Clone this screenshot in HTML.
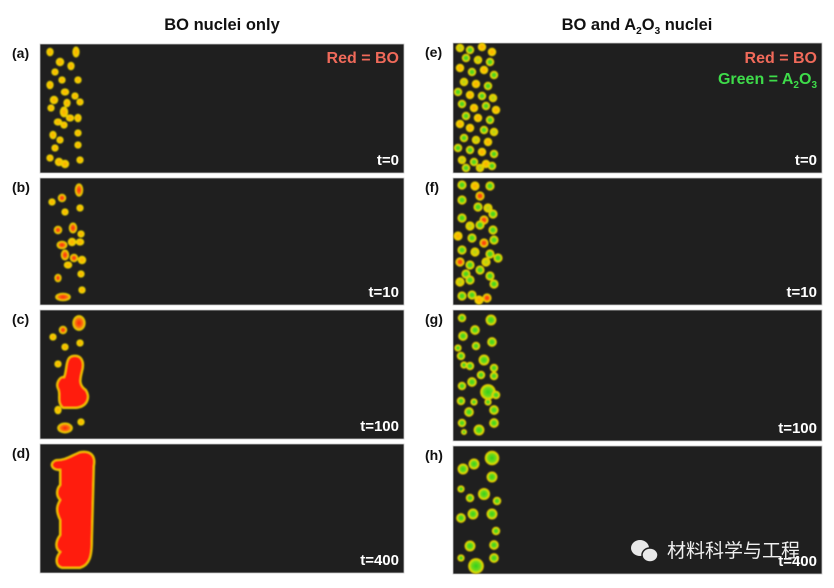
<!DOCTYPE html>
<html><head><meta charset="utf-8"><style>
body{margin:0;background:#fff;width:834px;height:588px;overflow:hidden}
svg{display:block}
text{font-family:"Liberation Sans",Arial,sans-serif;font-weight:bold}
</style></head><body>
<svg width="834" height="588" viewBox="0 0 834 588">
<defs>
<radialGradient id="gy"><stop offset="0" stop-color="#f7a800"/><stop offset="0.6" stop-color="#fbc400"/><stop offset="1" stop-color="#f0d000"/></radialGradient>
<radialGradient id="gr"><stop offset="0" stop-color="#ff2010"/><stop offset="0.55" stop-color="#f86a10"/><stop offset="1" stop-color="#f0d000"/></radialGradient>
<radialGradient id="gg"><stop offset="0" stop-color="#30d020"/><stop offset="0.6" stop-color="#70d818"/><stop offset="1" stop-color="#e8e000"/></radialGradient>
<radialGradient id="gm"><stop offset="0" stop-color="#a8d010"/><stop offset="1" stop-color="#f0d000"/></radialGradient>
<filter id="bl"><feGaussianBlur stdDeviation="0.7"/></filter>
</defs>
<g id="root"></g>
</svg>
<script>
const panels=[
 ['a',40,44,364,129,'t=0'],['b',40,178,364,127,'t=10'],['c',40,310,364,129,'t=100'],['d',40,444,364,129,'t=400'],
 ['e',453,43,369,130,'t=0'],['f',453,178,369,127,'t=10'],['g',453,310,369,131,'t=100'],['h',453,446,369,128,'t=400']];
const pa=[[50,52,2.5,3],[76,52,2.5,4],[60,62,3,3],[55,72,2.5,2.5],[71,66,2.5,3],[62,80,2.5,2.5],[78,80,2.5,2.5],[50,85,2.5,3],[65,92,3,2.5],[54,100,3,3],[75,96,2.5,2.5],[80,102,2.5,2.5],[67,103,2.5,3],[51,108,2.5,2.5],[64,112,3,4],[70,118,3,2.5],[78,118,2.5,3],[58,122,3,2.5],[64,125,2.5,2.5],[53,135,2.5,3],[78,133,2.5,2.5],[60,140,2.5,2.5],[55,148,2.5,2.5],[78,145,2.5,2.5],[50,158,2.5,2.5],[59,162,3,3],[65,164,3,3],[80,160,2.5,2.5]];
const pb=[[79,190,3,5,'r'],[62,198,3,3,'r'],[52,202,2.5,2.5,'y'],[65,212,2.5,2.5,'y'],[80,208,2.5,2.5,'y'],[58,230,3,3,'r'],[73,228,3,4,'r'],[81,234,2.5,2.5,'y'],[62,245,4,3,'r'],[72,242,3,3,'y'],[80,242,3,2.5,'y'],[65,255,3,4,'r'],[74,258,3,3,'r'],[82,260,3,3,'y'],[68,265,3,2.5,'y'],[81,274,2.5,2.5,'y'],[58,278,2.5,3,'r'],[82,290,2.5,2.5,'y'],[63,297,6,3,'r']];
const pc=[[79,323,5,6,'r'],[63,330,3,3,'r'],[53,337,2.5,2.5,'y'],[65,347,2.5,2.5,'y'],[80,343,2.5,2.5,'y'],[58,364,2.5,2.5,'y'],[58,410,2.5,3,'y'],[81,422,2.5,2.5,'y'],[65,428,6,4,'r']];
const pe=[[460,48,'m'],[470,50,'g'],[482,47,'y'],[492,52,'y'],[466,58,'g'],[478,60,'m'],[490,62,'g'],[460,68,'y'],[472,72,'g'],[484,70,'y'],[494,75,'g'],[464,82,'m'],[476,84,'y'],[488,86,'g'],[458,92,'g'],[470,95,'y'],[482,96,'g'],[493,98,'m'],[462,104,'g'],[474,108,'y'],[486,106,'g'],[496,110,'y'],[466,116,'g'],[478,118,'y'],[490,120,'g'],[460,124,'y'],[470,128,'y'],[484,130,'g'],[494,132,'m'],[464,138,'g'],[476,140,'m'],[488,142,'y'],[458,148,'g'],[470,150,'g'],[482,152,'y'],[494,154,'g'],[462,160,'m'],[474,162,'g'],[486,164,'y'],[466,168,'g'],[480,168,'m'],[492,166,'g']];
const pf=[[462,185,'g'],[475,186,'y'],[490,186,'g'],[480,196,'r'],[462,200,'g'],[478,207,'g'],[488,208,'m'],[493,214,'g'],[462,218,'g'],[484,220,'r'],[470,226,'m'],[480,225,'g'],[493,230,'g'],[458,236,'y'],[472,238,'g'],[484,243,'r'],[494,240,'g'],[462,250,'g'],[475,252,'m'],[490,254,'g'],[460,262,'r'],[470,265,'g'],[486,262,'m'],[498,258,'g'],[466,274,'g'],[480,270,'g'],[490,276,'g'],[460,282,'m'],[470,280,'g'],[494,284,'g'],[472,295,'g'],[487,298,'r'],[462,296,'g'],[479,300,'y']];
const pg=[[462,318,3],[491,320,4],[463,336,3.5],[475,330,3.5],[458,348,2.5],[476,346,3],[492,342,3.5],[461,356,3],[464,365,2.5],[484,360,4],[494,368,3],[470,366,3],[481,375,3],[494,376,3],[472,382,3.5],[462,386,3],[488,392,6],[496,395,3],[461,401,3],[474,402,2.5],[488,402,2.5],[469,412,3.5],[494,410,3.5],[462,423,3],[464,432,2],[479,430,4],[494,423,3.5]];
const ph=[[463,469,4],[474,464,4],[492,458,5.5],[492,477,4],[461,489,2.5],[470,498,3],[484,494,4.5],[497,501,3],[461,518,3.5],[473,514,4],[492,514,4],[496,531,3],[470,546,4],[494,545,3.5],[461,558,2.5],[494,558,3.5],[476,566,6]];
const root=document.getElementById('root');
const NS='http://www.w3.org/2000/svg';
function mk(t,a,p){const e=document.createElementNS(NS,t);for(const k in a)e.setAttribute(k,a[k]);(p||root).appendChild(e);return e;}
const fills={y:'url(#gy)',r:'url(#gr)',g:'url(#gg)',m:'url(#gm)'};
panels.forEach(p=>{
 const r=mk('rect',{x:p[1],y:p[2],width:p[3],height:p[4],fill:'#1f1f1f',stroke:'#c8c8c8','stroke-width':0.8});
 
 
 const l=mk('text',{x:p[1]-28,y:p[2]+14,'font-size':14,fill:'#111'});l.textContent='('+p[0]+')';
 
 
 if(p[0]!=='h'){const t=mk('text',{x:p[1]+p[3]-5,y:p[2]+p[4]-8,'font-size':15,fill:'#fff','text-anchor':'end'});t.textContent=p[5];
 
 }
});
const g=mk('g',{filter:'url(#bl)'});
const K=1.2;
function ell(x,y,rx,ry,f,name){const e=mk('ellipse',{cx:x,cy:y,rx:rx*K,ry:ry*K,fill:f,stroke:'#e8d000','stroke-width':1.3},g);
 
 }
pa.forEach(d=>ell(d[0],d[1],d[2],d[3],fills.y,'bo-nucleus'));
pb.forEach(d=>ell(d[0],d[1],d[2],d[3],fills[d[4]],'bo-particle'));
pc.forEach(d=>ell(d[0],d[1],d[2],d[3],fills[d[4]],'bo-particle'));
pe.forEach(d=>ell(d[0],d[1],3,3,fills[d[2]],'mixed-nucleus'));
pf.forEach(d=>ell(d[0],d[1],3.3,3.3,fills[d[2]],'mixed-particle'));
pg.forEach(d=>ell(d[0],d[1],d[2],d[2],fills.g,'a2o3-particle'));
ph.forEach(d=>ell(d[0],d[1],d[2],d[2],fills.g,'a2o3-particle'));
const bc=mk('path',{d:'M72,356 C82,354 85,362 82,372 C80,380 79,385 86,390 C91,398 87,407 76,408 L63,408 C56,402 61,394 58,389 C55,383 60,376 64,377 C67,370 65,358 72,356Z',fill:'#ff1a10',stroke:'#f0c800','stroke-width':2},g);


const bd=mk('path',{d:'M80,452 C91,450 96,456 94,466 L92,540 C92,556 90,565 80,568 L62,568 C55,566 55,558 60,552 C54,548 56,540 60,535 L60,520 C55,510 57,505 60,500 C55,495 57,488 60,485 L60,470 C52,471 48,463 56,460 C66,460 70,456 80,452Z',fill:'#ff1a10',stroke:'#f0c800','stroke-width':2},g);


</script>
<svg style="position:absolute;left:0;top:0" width="834" height="588">
<text x="222" y="30" font-size="16.5" fill="#111" text-anchor="middle">BO nuclei only</text>
<text x="637" y="30" font-size="16.5" fill="#111" text-anchor="middle">BO and A<tspan font-size="10" dy="4">2</tspan><tspan dy="-4">O</tspan><tspan font-size="10" dy="4">3</tspan><tspan dy="-4"> nuclei</tspan></text>
<text x="399" y="63" font-size="16" fill="#f06a5a" text-anchor="end">Red = BO</text>
<text x="817" y="63" font-size="16" fill="#f06a5a" text-anchor="end">Red = BO</text>
<text x="817" y="84" font-size="16" fill="#3edc4a" text-anchor="end">Green = A<tspan font-size="10" dy="4">2</tspan><tspan dy="-4">O</tspan><tspan font-size="10" dy="4">3</tspan></text>
<text x="817" y="566" font-size="15" fill="#fff" text-anchor="end">t=400</text>
<g>
<ellipse cx="640" cy="548" rx="9" ry="8" fill="#e8e8e8"/><ellipse cx="650" cy="555" rx="8" ry="7" fill="#e8e8e8" stroke="#1f1f1f" stroke-width="1.5"/>
</g>
<text x="667" y="557" font-size="19" font-weight="normal" fill="#f0f0f0" style="font-family:'Liberation Sans','Noto Sans CJK SC',sans-serif;font-weight:normal">材料科学与工程</text>
</svg>
</body></html>
